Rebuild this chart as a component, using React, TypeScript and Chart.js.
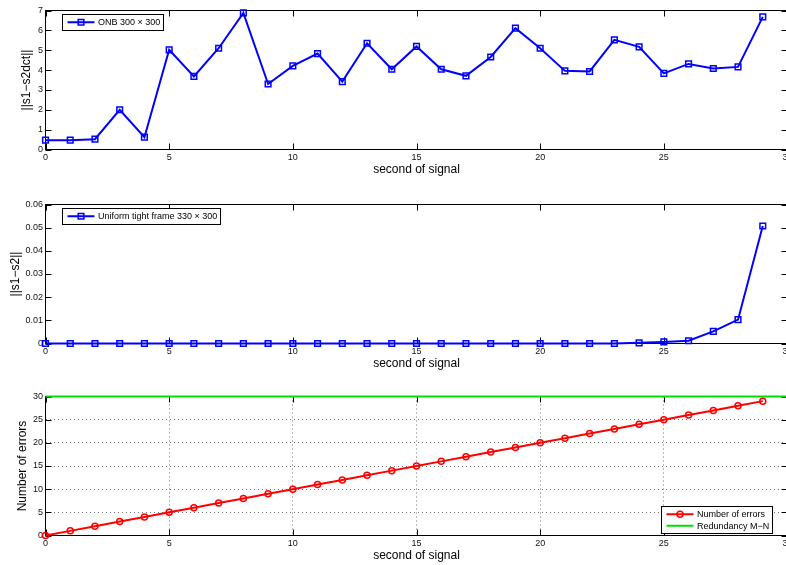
import React, { useEffect, useRef } from 'react';
import { Chart, registerables } from 'chart.js';

Chart.register(...registerables);

// ---------- data ----------
const seconds = [0, 1, 2, 3, 4, 5, 6, 7, 8, 9, 10, 11, 12, 13, 14, 15, 16, 17, 18, 19, 20, 21, 22, 23, 24, 25, 26, 27, 28, 29];
const onbError = [0.47, 0.47, 0.52, 2.0, 0.62, 5.02, 3.68, 5.1, 6.88, 3.3, 4.21, 4.83, 3.42, 5.35, 4.04, 5.19, 4.04, 3.71, 4.66, 6.11, 5.1, 3.96, 3.93, 5.52, 5.17, 3.83, 4.31, 4.08, 4.16, 6.68];
const frameError = [0, 0, 0, 0, 0, 0, 0, 0, 0, 0, 0, 0, 0, 0, 0, 0, 0, 0, 0, 0, 0, 0, 0, 0, 0.0003, 0.0007, 0.0012, 0.0052, 0.0103, 0.0507];
const errorCount = [0, 1, 2, 3, 4, 5, 6, 7, 8, 9, 10, 11, 12, 13, 14, 15, 16, 17, 18, 19, 20, 21, 22, 23, 24, 25, 26, 27, 28, 29];
const redundancyLevel = 30;
const redundancySpan = [0, 30];

const xMin = 0;
const xMax = 30;
const xStep = 5;
const xTitle = 'second of signal';

const onbLabel = 'ONB 300 \u00d7 300';
const frameLabel = 'Uniform tight frame 330 \u00d7 300';
const errorsLabel = 'Number of errors';
const redundancyLabel = 'Redundancy M\u2212N';

const FONT = '"Liberation Sans", Arial, Helvetica, sans-serif';

// ---------- plugins ----------
const boxPlugin = {
  id: 'matlabBox',
  beforeDatasetsDraw(chart: any) {
    const { ctx, chartArea: a, scales } = chart;
    ctx.save();
    ctx.strokeStyle = '#000';
    ctx.lineWidth = 1;
    ctx.strokeRect(a.left, a.top, a.right - a.left, a.bottom - a.top);
    const tl = 6;
    ctx.beginPath();
    scales.x.ticks.forEach((t: any) => {
      const px = Math.round(scales.x.getPixelForValue(t.value)) + 0.5;
      ctx.moveTo(px, a.bottom);
      ctx.lineTo(px, a.bottom - tl);
      ctx.moveTo(px, a.top);
      ctx.lineTo(px, a.top + tl);
    });
    scales.y.ticks.forEach((t: any) => {
      const py = Math.round(scales.y.getPixelForValue(t.value)) + 0.5;
      ctx.moveTo(a.left, py);
      ctx.lineTo(a.left + tl, py);
      ctx.moveTo(a.right, py);
      ctx.lineTo(a.right - tl, py);
    });
    ctx.stroke();
    ctx.restore();
  },
};

function drawMarker(ctx: any, style: string, x: number, y: number, r: number, color: string, bw: number) {
  if (!style || r <= 0) return;
  ctx.save();
  ctx.strokeStyle = color;
  ctx.lineWidth = bw;
  ctx.beginPath();
  if (style === 'rect') {
    const s = Math.SQRT1_2 * r;
    ctx.rect(x - s, y - s, 2 * s, 2 * s);
  } else {
    ctx.arc(x, y, r, 0, Math.PI * 2);
  }
  ctx.stroke();
  ctx.restore();
}

const legendPlugin = {
  id: 'matlabLegend',
  afterDatasetsDraw(chart: any, _args: any, opts: any) {
    if (!opts || !opts.corner) return;
    const { ctx, chartArea: a } = chart;
    const items = chart.data.datasets.map((ds: any) => ({
      label: ds.label,
      color: ds.borderColor,
      style: ds.pointStyle,
      r: ds.pointRadius,
      bw: ds.pointBorderWidth,
      lw: ds.borderWidth,
    }));
    ctx.save();
    ctx.font = `9px ${FONT}`;
    const textW = Math.max(...items.map((i: any) => ctx.measureText(i.label).width));
    const padL = 5, lineLen = 27, gap = 3.5, padR = 3.5, rowH = 11.5, padV = 2;
    const w = Math.round(padL + lineLen + gap + textW + padR);
    const h = Math.round(items.length * rowH + 2 * padV);
    let x: number, y: number;
    if (opts.corner === 'tl') {
      x = Math.round(a.left + opts.dx) + 0.5;
      y = Math.round(a.top + opts.dy) + 0.5;
    } else {
      x = Math.round(a.right - opts.dx - w) + 0.5;
      y = Math.round(a.bottom - opts.dy - h) + 0.5;
    }
    ctx.fillStyle = '#fff';
    ctx.fillRect(x, y, w, h);
    ctx.strokeStyle = '#000';
    ctx.lineWidth = 1;
    ctx.strokeRect(x, y, w, h);
    items.forEach((it: any, i: number) => {
      const cy = y + padV + rowH * (i + 0.5);
      ctx.strokeStyle = it.color;
      ctx.lineWidth = it.lw;
      ctx.beginPath();
      ctx.moveTo(x + padL, cy);
      ctx.lineTo(x + padL + lineLen, cy);
      ctx.stroke();
      drawMarker(ctx, it.style, x + padL + lineLen / 2, cy, it.r, it.color, it.bw);
      ctx.fillStyle = '#000';
      ctx.textBaseline = 'middle';
      ctx.textAlign = 'left';
      ctx.fillText(it.label, x + padL + lineLen + gap, cy + 0.5);
    });
    ctx.restore();
  },
};

// ---------- config ----------
type Cfg = {
  datasets: any[];
  yMin: number;
  yMax: number;
  yStep: number;
  yTitle: string;
  yTitlePad: number;
  grid: boolean;
  legend: any;
  yFormat?: (v: number) => string;
};

function makeConfig(c: Cfg): any {
  const gridOpts = c.grid
    ? { display: true, drawTicks: false, color: 'rgba(0,0,0,0.55)', lineWidth: 1 }
    : { display: false, drawTicks: false };
  return {
    type: 'line',
    data: { datasets: c.datasets },
    plugins: [boxPlugin, legendPlugin],
    options: {
      responsive: false,
      animation: false,
      devicePixelRatio: 1,
      layout: { padding: { top: 10.5, left: 0, right: 12.5, bottom: 0 } },
      plugins: {
        legend: { display: false },
        tooltip: { enabled: false },
        matlabLegend: c.legend,
      },
      elements: { line: { tension: 0 } },
      scales: {
        x: {
          type: 'linear',
          min: xMin,
          max: xMax,
          grid: gridOpts,
          border: { display: false, dash: [1, 3] },
          ticks: { stepSize: xStep, padding: 2.5, color: '#111', font: { family: FONT, size: 9 }, maxRotation: 0 },
          title: { display: true, text: xTitle, color: '#000', font: { family: FONT, size: 12 }, padding: { top: 0, bottom: 7.8 } },
          afterFit: (s: any) => { s.height = 35.5; },
        },
        y: {
          type: 'linear',
          min: c.yMin,
          max: c.yMax,
          grid: gridOpts,
          border: { display: false, dash: [1, 3] },
          ticks: {
            stepSize: c.yStep,
            padding: 2.5,
            color: '#111',
            font: { family: FONT, size: 9 },
            callback: c.yFormat || ((v: number) => String(v)),
          },
          title: { display: true, text: c.yTitle, color: '#000', font: { family: FONT, size: 12 }, padding: { top: c.yTitlePad, bottom: 0 } },
          afterFit: (s: any) => { s.width = 45.5; },
        },
      },
    },
  };
}

const blue = '#0000ff';
const red = '#ff0000';
const green = '#00e000';

const topConfig = () =>
  makeConfig({
    datasets: [
      {
        label: onbLabel,
        data: seconds.map((s, i) => ({ x: s, y: onbError[i] })),
        borderColor: blue,
        borderWidth: 2,
        pointStyle: 'rect',
        pointRadius: 4,
        pointBorderWidth: 1.5,
        pointBackgroundColor: 'rgba(0,0,0,0)',
        pointBorderColor: blue,
        clip: false,
      },
    ],
    yMin: 0,
    yMax: 7,
    yStep: 1,
    yTitle: '||s1\u2212s2dct||',
    yTitlePad: 19.5,
    grid: false,
    legend: { corner: 'tl', dx: 16, dy: 3.5 },
  });

const midConfig = () =>
  makeConfig({
    datasets: [
      {
        label: frameLabel,
        data: seconds.map((s, i) => ({ x: s, y: frameError[i] })),
        borderColor: blue,
        borderWidth: 2,
        pointStyle: 'rect',
        pointRadius: 4,
        pointBorderWidth: 1.5,
        pointBackgroundColor: 'rgba(0,0,0,0)',
        pointBorderColor: blue,
        clip: false,
      },
    ],
    yMin: 0,
    yMax: 0.06,
    yStep: 0.01,
    yTitle: '||s1\u2212s2||',
    yTitlePad: 8.3,
    grid: false,
    legend: { corner: 'tl', dx: 16.5, dy: 3.5 },
    yFormat: (v: number) => String(Number(v.toFixed(2))),
  });

const botConfig = () =>
  makeConfig({
    datasets: [
      {
        label: errorsLabel,
        data: seconds.map((s, i) => ({ x: s, y: errorCount[i] })),
        borderColor: red,
        borderWidth: 2,
        pointStyle: 'circle',
        pointRadius: 3,
        pointBorderWidth: 1.5,
        pointBackgroundColor: 'rgba(0,0,0,0)',
        pointBorderColor: red,
        clip: false,
      },
      {
        label: redundancyLabel,
        data: redundancySpan.map((s) => ({ x: s, y: redundancyLevel })),
        borderColor: green,
        borderWidth: 2,
        pointStyle: false,
        pointRadius: 0,
        pointBorderWidth: 0,
        clip: false,
      },
    ],
    yMin: 0,
    yMax: 30,
    yStep: 5,
    yTitle: 'Number of errors',
    yTitlePad: 15.5,
    grid: true,
    legend: { corner: 'br', dx: 15.2, dy: 3 },
  });

function Panel({ config, top }: { config: () => any; top: number }) {
  const ref = useRef<HTMLCanvasElement | null>(null);
  useEffect(() => {
    if (!ref.current) return;
    const chart = new Chart(ref.current, config());
    return () => chart.destroy();
  }, []);
  return (
    <canvas
      ref={ref}
      width={800}
      height={185}
      style={{ position: 'absolute', left: 0, top, display: 'block', width: 800, height: 185 }}
    />
  );
}

export default function App() {
  return (
    <div
      style={{
        position: 'fixed',
        left: 0,
        top: 0,
        width: 786,
        height: 565,
        overflow: 'hidden',
        background: '#fff',
      }}
    >
      <Panel config={topConfig} top={0} />
      <Panel config={midConfig} top={193.5} />
      <Panel config={botConfig} top={386} />
    </div>
  );
}
